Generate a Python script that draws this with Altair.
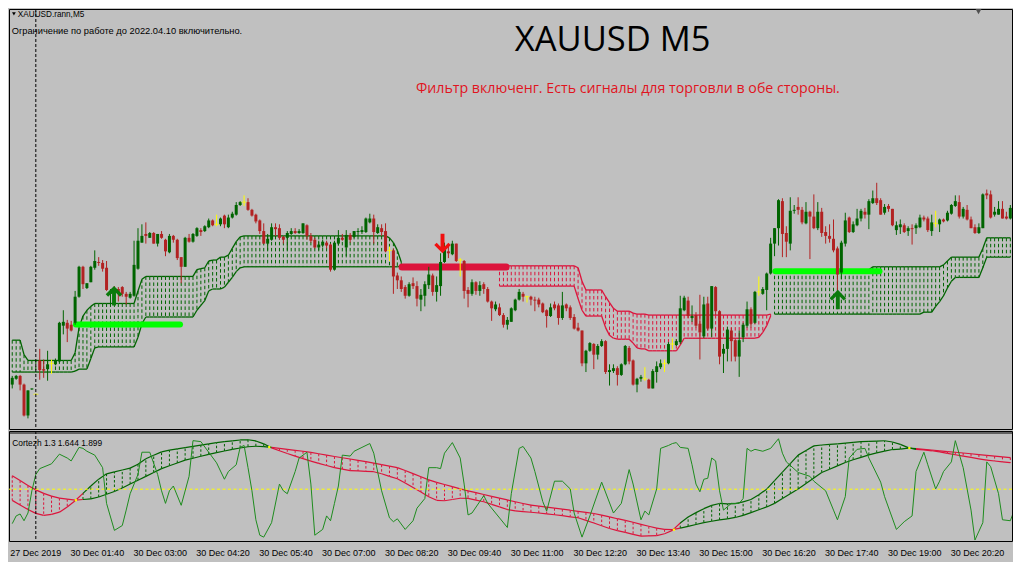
import altair as alt
import pandas as pd

# ---------------- price pane: candle levels (larger number = lower on the pane)
candle_open = [389, 383, 380, 389, 421, 394, 399, 364, 373, 373,
 367, 368, 365, 328, 325, 327, 325, 298, 267, 289,
 283, 268, 262, 263, 268, 295, 289, 290, 288, 295,
 299, 297, 269, 242, 233, 237, 232, 243, 233, 239,
 252, 235, 239, 257, 267, 237, 241, 235, 229, 230,
 226, 219, 223, 223, 214, 226, 216, 213, 203, 200,
 200, 208, 213, 219, 230, 243, 239, 226, 227, 236,
 237, 233, 230, 232, 232, 224, 235, 239, 247, 245,
 242, 244, 270, 243, 237, 247, 234, 236, 231, 231,
 231, 221, 217, 232, 227, 230, 250, 250, 276, 281,
 288, 297, 284, 287, 301, 297, 286, 276, 293, 287,
 262, 251, 254, 243, 260, 261, 291, 295, 283, 292,
 285, 290, 303, 311, 309, 317, 327, 324, 312, 301,
 295, 298, 298, 301, 301, 305, 312, 318, 306, 307,
 320, 306, 309, 319, 330, 333, 367, 354, 347, 358,
 349, 344, 376, 375, 372, 379, 368, 351, 364, 389,
 383, 383, 384, 393, 376, 371, 367, 367, 347, 348,
 345, 312, 302, 320, 317, 326, 339, 305, 331, 288,
 313, 357, 352, 333, 343, 360, 340, 328, 311, 325,
 293, 295, 291, 274, 243, 227, 199, 232, 243, 209,
 205, 208, 222, 210, 215, 227, 210, 231, 235, 238,
 248, 273, 243, 216, 231, 224, 217, 210, 213, 201,
 196, 198, 211, 204, 207, 229, 226, 224, 230, 227,
 227, 226, 216, 217, 230, 222, 223, 218, 219, 212,
 204, 200, 215, 208, 218, 226, 232, 227, 191, 192,
 213, 213, 207, 215, 217]
candle_high = [380, 379, 379, 388, 395, 393, 398.5, 352, 363, 354,
 363, 362, 324, 312, 322, 323, 292, 266, 266, 284,
 266, 250, 257, 260, 261, 290, 287, 288, 287, 293,
 293, 240, 227, 223, 221, 231, 231, 233, 230, 238,
 233, 234, 238, 257, 236, 233, 232, 226, 227, 224,
 217, 218, 213, 216, 213, 213, 210, 200, 199, 193,
 196, 207, 212, 218, 222, 233, 222, 222, 223, 235,
 230, 227, 227, 228, 222, 223, 232, 237, 240, 239,
 240, 243, 240, 229, 233, 229, 232, 230, 227, 225,
 216, 212, 213, 223, 223, 222, 246, 248, 273, 277,
 286, 283, 278, 282, 290, 282, 267, 274, 277, 253,
 242, 246, 240, 243, 258, 260, 288, 280, 282, 282,
 283, 288, 302, 303, 305, 315, 319, 309, 300, 290,
 293, 297, 297, 298, 299, 304, 311, 305, 303, 305,
 293, 305, 307, 316, 325, 333, 353, 345, 346, 347,
 342, 343, 368, 368, 370, 367, 348, 349, 363, 382,
 379, 371, 383, 373, 365, 363, 363, 345, 341, 342,
 297, 297, 298, 307, 314, 296, 298, 298, 287, 287,
 312, 347, 329, 330, 341, 333, 325, 303, 309, 292,
 277, 288, 273, 237, 227, 197, 196, 225, 195, 203,
 195, 205, 200, 209, 192, 200, 206, 225, 223, 218,
 246, 240, 211, 215, 220, 207, 207, 206, 197, 188,
 180, 196, 202, 202, 207, 220, 218, 222, 225, 223,
 222, 213, 214, 215, 213, 209, 217, 217, 209, 202,
 193, 193, 205, 203, 215, 223, 222, 191, 187, 188,
 205, 199, 199, 210, 203]
candle_low = [393, 384, 395, 422, 424, 394.5, 399.5, 384, 382, 385,
 378, 369, 366, 337, 345, 334, 327, 299, 290, 290,
 283, 270, 266, 272, 292, 306, 300, 303, 298, 306,
 300, 298, 270, 242, 243, 237, 243, 246, 238, 256,
 253, 242, 260, 284, 267, 242, 242, 236, 235, 231,
 227, 225, 225, 225, 227, 227, 217, 214, 204, 204,
 209, 215, 222, 233, 243, 250, 240, 235, 239, 243,
 250, 234, 233, 233, 233, 239, 242, 248, 250, 247,
 248, 272, 271, 245, 240, 256, 242, 237, 235, 233,
 232, 222, 243, 233, 235, 252, 261, 295, 290, 293,
 300, 298, 290, 308, 313, 308, 290, 297, 303, 297,
 263, 258, 255, 262, 277, 300, 309, 297, 296, 297,
 295, 304, 323, 313, 318, 330, 332, 324, 313, 302,
 303, 304, 307, 313, 309, 315, 330, 319, 312, 327,
 322, 313, 322, 332, 334, 370, 376, 355, 373, 363,
 350, 378, 390, 377, 390, 380, 369, 368, 390, 397,
 386, 385, 393, 393, 387, 373, 376, 368, 353, 349,
 347, 313, 320, 324, 330, 363, 341, 333, 340, 317,
 368, 377, 365, 365, 365, 381, 345, 330, 330, 326,
 297, 296, 312, 275, 256, 245, 257, 257, 250, 212,
 213, 223, 223, 259, 228, 229, 236, 243, 242, 252,
 300, 280, 246, 232, 232, 225, 220, 217, 228, 202,
 203, 213, 213, 210, 225, 234, 233, 232, 235, 244,
 233, 227, 220, 231, 235, 226, 231, 221, 220, 213,
 205, 217, 217, 219, 227, 233, 233, 227, 197, 217,
 215, 213, 217, 218, 218]
candle_close = [382, 380, 389, 421, 395, 393, 399, 374, 374.5, 368,
 367, 364, 325, 324, 331, 333, 298, 267, 285, 284,
 267, 261, 263, 269, 291, 292, 293, 295, 295, 298,
 295, 265, 240, 235, 235, 232, 243, 233, 237, 251,
 235, 239, 258, 267, 237, 241, 233, 227, 231, 225,
 219, 224, 223, 217, 223, 216, 212, 203, 200, 200,
 208, 214, 220, 230, 243, 238, 226, 228, 237, 239,
 232, 230, 232, 230, 222, 235, 240, 247, 244, 241,
 245, 270, 242, 237, 239, 234, 239, 230, 230, 229,
 217, 217, 231, 226, 231, 251, 250, 277, 281, 290,
 297, 285, 287, 300, 296, 285, 275, 293, 286, 262,
 248, 253, 243, 261, 260, 292, 295, 283, 292, 286,
 290, 303, 310, 306, 317, 327, 322, 310, 301, 293,
 298, 298, 301, 302, 306, 314, 318, 309, 310, 320,
 307, 310, 320, 331, 333, 367, 354, 346, 358, 349,
 344, 376, 374, 372, 379, 368, 349, 365, 389, 383,
 381, 383, 393, 375, 370, 367, 367, 347, 347, 344,
 310, 299, 318, 318, 328, 335, 306, 331, 287, 313,
 360, 352, 332, 344, 360, 343, 327, 311, 326, 293,
 293, 290, 274, 243, 227, 198, 233, 241, 209, 208,
 208, 221, 210, 215, 227, 210, 232, 235, 238, 250,
 275, 242, 219, 231, 223, 217, 209, 213, 199, 196,
 201, 213, 205, 207, 224, 224, 223, 231, 227, 228,
 224, 216, 218, 229, 221, 222, 218, 220, 211, 203,
 199, 215, 207, 218, 227, 232, 226, 192, 193, 216,
 210, 207, 217, 217, 206]

# ---------------- price-pane cloud (per bar)
cloud1_start = 0
cloud1_top = ([343] * 3 + [358] + [364] * 12 + [356, 330, 318, 312, 308] + [305] * 11 + [292, 280]
              + [277] * 13 + [270, 269, 268, 261, 260, 260, 257, 257, 255, 248, 241, 236] + [235] * 37
              + [237, 242, 250, 262])
cloud1_bottom = ([376] * 16 + [375, 373, 373, 373, 362, 351] + [350] * 10 + [340, 326] + [319] * 13
                 + [312, 307, 302, 292, 290, 290, 290, 288, 283, 278, 272, 268] + [267] * 40 + [266])
cloud2_start = 124
cloud2_top = ([266] * 20 + [268, 282] + [291] * 5 + [298, 304, 310] + [313] * 4 + [315] + [316] * 3
              + [317] * 31 + [316])
cloud2_bottom = ([287] * 20 + [300, 312] + [318] * 5 + [330, 338, 341] + [342] * 4 + [346, 351, 352, 352]
                 + [354] * 8 + [348] + [341] * 19 + [340, 335, 328, 318])
cloud3_start = 194
cloud3_top = [270] * 25 + [267] * 18 + [265, 261] + [257] * 8 + [248] + [237] * 7
cloud3_bottom = [316] * 38 + [314] * 3 + [308, 303, 297, 289, 282] + [278] * 7 + [268] + [257] * 7

# ---------------- signal bars and arrows
signal_from = [16.2, 99.2, 194.2]
signal_to = [42.7, 125.7, 220.7]
signal_level = [326.8, 267.3, 271.5]
signal_color = ["#00ff00", "#dc143c", "#00ff00"]
signal_width = [6, 7, 6]

arrow_bar = [25.9, 109.5, 210.1]
arrow_level = [297, 243, 301]
arrow_kind = ["up", "down", "up"]

# ---------------- indicator pane (Cortezh): two smoothed lines every 2 bars + oscillator
ind_bar = list(range(0, 256, 2))
ind_slow = [481.4, 486.4, 491.4, 496, 499.6, 502.5, 504.6, 505.7, 506.6, 506,
 505.3, 503.4, 500.5, 497.7, 494, 490, 486, 482, 478, 474,
 471, 468.2, 465.2, 463.2, 461.2, 459.3, 457.5, 455.7, 454, 452.6,
 451.3, 450.8, 451.2, 452, 453, 454, 455, 456, 457.2, 458.6,
 460, 461.4, 462.7, 464, 465.4, 466.7, 468.3, 469.9, 471.4, 473,
 476, 479.2, 482.4, 485.6, 488.2, 490.4, 492.6, 494.9, 497, 498.9,
 500.8, 502.7, 504.6, 506.4, 508.3, 510.1, 511.9, 512.9, 513.9, 515,
 516, 517.1, 518.3, 519.4, 520.5, 522.2, 524, 525.9, 527.7, 529.6,
 531.7, 533.7, 535.7, 536.9, 537.3, 535.7, 533.8, 531.9, 529.9, 528.5,
 527.2, 526, 524.6, 522.5, 519.6, 516.6, 513.7, 510, 505, 500,
 495, 489.3, 483.6, 478, 474.6, 471.1, 467.6, 464.8, 462.3, 459.8,
 457.6, 455.9, 454.2, 453.7, 452.8, 453.3, 454, 454.7, 455.5, 456.3,
 457, 457.8, 458.6, 459.4, 460.2, 461, 461.8, 462.5]
ind_fast = [506.9, 511.6, 516.3, 520.4, 522.5, 521.4, 519.1, 513.8, 507.3, 499.6,
 492, 484.9, 479.4, 477.4, 475.4, 473.5, 469.5, 463.8, 460.1, 456.6,
 454.9, 453.6, 452.3, 451, 449.7, 448.4, 447, 446, 445.3, 444.3,
 444.1, 445.3, 448.3, 452.5, 455.5, 458.3, 461, 463.7, 466.2, 468.5,
 470.8, 473, 474.5, 476, 476.4, 476.8, 477.2, 479.3, 482, 484.5,
 488.9, 493.6, 498.3, 503.1, 506.8, 507.3, 506, 504.7, 504.9, 506.6,
 508.3, 511, 513.7, 516.4, 517.8, 518.5, 519.2, 520, 520.8, 521.8,
 522.8, 523.9, 524.9, 527.6, 530.4, 533.2, 536, 538.2, 540.1, 542.1,
 544, 543.7, 543.4, 541.5, 538, 530.3, 524.1, 519.6, 515.5, 512.1,
 510.1, 510.5, 510.2, 508.5, 506, 501, 495.3, 486.5, 477.6, 468.8,
 460, 455.2, 450.4, 449.5, 448.9, 448.3, 447.5, 446.7, 446, 445.7,
 445.4, 445.1, 446.4, 448.9, 452.2, 454, 454.5, 455.5, 456.7, 458.2,
 459.6, 461, 462.4, 463.9, 465.2, 466.1, 467, 467.8]

osc_bar = [0, 1, 2, 3, 4, 5, 6, 7, 10, 12,
 14, 15, 17, 18, 19, 21, 23, 24, 26, 28,
 29, 30, 32, 33, 35, 37, 38, 39, 40, 41,
 43, 45, 46, 48, 50, 52, 54, 55, 57, 58,
 59, 60, 61, 62, 63, 64, 66, 68, 69, 70,
 72, 73, 75, 76, 77, 79, 80, 81, 82, 83,
 84, 86, 87, 89, 91, 92, 94, 96, 97, 98,
 100, 102, 103, 105, 106, 108, 109, 110, 112, 114,
 115, 116, 117, 120, 121, 123, 126, 127, 129, 130,
 132, 133, 135, 136, 138, 140, 142, 143, 145, 147,
 150, 153, 155, 157, 158, 160, 161, 162, 164, 165,
 167, 168, 169, 170, 172, 173, 174, 175, 176, 177,
 178, 179, 180, 181, 183, 185, 186, 187, 188, 189,
 191, 193, 195, 196, 197, 200, 203, 204, 207, 209,
 210, 212, 213, 215, 217, 218, 221, 222, 225, 227,
 229, 230, 232, 233, 235, 236, 237, 239, 240, 242,
 244, 245, 247, 248, 249, 251, 252, 254, 255]
osc_level = [531, 523, 521, 528, 520, 497, 480, 474, 469, 459,
 463, 466, 452, 453, 456, 460, 473, 510, 538, 533,
 517, 500, 480, 457, 457, 480, 497, 510, 497, 492,
 512, 482, 445, 446, 457, 468, 485, 477, 470, 452,
 450, 473, 497, 527, 543, 545, 530, 490, 497, 500,
 477, 463, 457, 490, 543, 537, 523, 528, 510, 492,
 460, 461, 456, 452, 448, 458, 497, 525, 529, 526,
 537, 528, 515, 505, 473, 473, 474, 458, 447, 463,
 490, 522, 520, 502, 510, 520, 535, 500, 453, 451,
 463, 477, 508, 518, 487, 487, 495, 520, 545, 523,
 488, 520, 510, 475, 490, 527, 518, 522, 495, 453,
 450, 448, 447, 452, 453, 470, 490, 498, 485, 484,
 463, 466, 497, 517, 510, 510, 505, 453, 456, 454,
 456, 453, 443, 458, 467, 478, 482, 487, 497, 517,
 527, 503, 463, 454, 453, 463, 488, 503, 537, 529,
 523, 477, 457, 470, 495, 487, 477, 467, 445, 473,
 517, 548, 530, 467, 472, 500, 527, 528, 517]

cross_bar = [16.2, 65.4, 168.4, 228.3]
cross_level = [506.7, 451.7, 537.3, 452.7]
zero_level = [495.3]
separator_bar = [6]

time_labels = ["27 Dec 2019", "30 Dec 01:40", "30 Dec 03:00", "30 Dec 04:20", "30 Dec 05:40",
               "30 Dec 07:00", "30 Dec 08:20", "30 Dec 09:40", "30 Dec 11:00", "30 Dec 12:20",
               "30 Dec 13:40", "30 Dec 15:00", "30 Dec 16:20", "30 Dec 17:40", "30 Dec 19:00",
               "30 Dec 20:20"]
time_label_bar = [-0.5, 14.85, 30.85, 46.85, 62.85, 78.85, 94.85, 110.85, 126.85, 142.85,
                  158.85, 174.85, 190.85, 206.85, 222.85, 238.85]

# ---------------- styling / layout
W, H_MAIN, H_IND, H_LAB = 1003, 420, 110, 20
SX = W / 1021.0
SY = H_MAIN / 435.0
BG = "#c0c0c0"
UP, DOWN, DOJI = "#006400", "#b22222", "#ffff00"
CG, CR = "#006400", "#dc143c"
SANS = "Liberation Sans"

xs = alt.Scale(domain=[-0.825, 254.425], nice=False, zero=False)
ys_main = alt.Scale(domain=[0, 435], reverse=True, nice=False, zero=False)
ys_ind = alt.Scale(domain=[435, 549], reverse=True, nice=False, zero=False)


def X(f):
    return alt.X(f, type="quantitative", scale=xs, axis=None)


def YM(f):
    return alt.Y(f, type="quantitative", scale=ys_main, axis=None)


def YI(f):
    return alt.Y(f, type="quantitative", scale=ys_ind, axis=None)


# ---- candles
cd = pd.DataFrame({"k": list(range(len(candle_open))), "o": candle_open, "h": candle_high,
                   "l": candle_low, "c": candle_close})
cd["col"] = [UP if c < o else (DOWN if c > o else DOJI) for o, c in zip(candle_open, candle_close)]
colr = alt.Color("col:N", scale=None)

wicks = alt.Chart(cd).mark_rule(strokeWidth=1, clip=True).encode(x=X("k"), y=YM("h"), y2="l:Q", color=colr)
bodies = alt.Chart(cd).transform_filter("datum.o != datum.c").mark_rule(
    strokeWidth=3, clip=True).encode(x=X("k"), y=YM("o"), y2="c:Q", color=colr)
dojis = alt.Chart(cd).transform_filter("datum.o == datum.c").mark_tick(
    orient="horizontal", size=5, thickness=1, clip=True).encode(x=X("k"), y=YM("o"), color=colr)

# ---- price-pane cloud
hatch_rows, edge_rows = [], []
for start, top, bot, col in [(cloud1_start, cloud1_top, cloud1_bottom, CG),
                             (cloud2_start, cloud2_top, cloud2_bottom, CR),
                             (cloud3_start, cloud3_top, cloud3_bottom, CG)]:
    for i in range(len(top)):
        hatch_rows.append({"k": start + i, "a": top[i], "b": bot[i], "col": col})
        if i + 1 < len(top):
            edge_rows.append({"k": start + i, "k2": start + i + 1, "a": top[i], "b": top[i + 1], "col": col})
            edge_rows.append({"k": start + i, "k2": start + i + 1, "a": bot[i], "b": bot[i + 1], "col": col})
hatch_df = pd.DataFrame(hatch_rows)
edge_df = pd.DataFrame(edge_rows)

cloud_hatch = alt.Chart(hatch_df).mark_rule(strokeWidth=1, strokeDash=[3.5, 2.5], clip=True).encode(
    x=X("k"), y=YM("a"), y2="b:Q", color=colr)
cloud_edges = alt.Chart(edge_df).mark_rule(strokeWidth=1.3, clip=True).encode(
    x=X("k"), x2="k2:Q", y=YM("a"), y2="b:Q", color=colr)

# ---- signals
sig_df = pd.DataFrame({"k": signal_from, "k2": signal_to, "v": signal_level,
                       "col": signal_color, "w": signal_width})
signals = alt.Chart(sig_df).mark_rule(strokeCap="round", clip=True).encode(
    x=X("k"), x2="k2:Q", y=YM("v"), color=colr, strokeWidth=alt.StrokeWidth("w:Q", scale=None))

UP_PATH = "M0,-1L0.85,-0.15L0.6,0.1L0.2,-0.32L0.2,1L-0.2,1L-0.2,-0.32L-0.6,0.1L-0.85,-0.15Z"
DOWN_PATH = "M0,1L0.85,0.15L0.6,-0.1L0.2,0.32L0.2,-1L-0.2,-1L-0.2,0.32L-0.6,-0.1L-0.85,0.15Z"
arr_df = pd.DataFrame({"k": arrow_bar, "v": arrow_level, "kind": arrow_kind})
arr_df["shp"] = [UP_PATH if t == "up" else DOWN_PATH for t in arrow_kind]
arr_df["col"] = ["#0b7a0b" if t == "up" else "#f01010" for t in arrow_kind]
arrows = alt.Chart(arr_df).mark_point(filled=True, opacity=1, size=380, strokeWidth=0, clip=True).encode(
    x=X("k"), y=YM("v"), shape=alt.Shape("shp:N", scale=None), color=colr)

sep_df = pd.DataFrame({"k": separator_bar})
sep_main = alt.Chart(sep_df).mark_rule(color="black", strokeDash=[3, 2], strokeWidth=1).encode(x=X("k"))
sep_ind = alt.Chart(sep_df).mark_rule(color="black", strokeDash=[3, 2], strokeWidth=1).encode(x=X("k"))


def label(text, x, y, size, font, color="black", align="left"):
    return alt.Chart(pd.DataFrame({"t": [text]})).mark_text(
        align=align, baseline="alphabetic", fontSize=size, font=font, color=color).encode(
        text="t:N", x=alt.value(x), y=alt.value(y))


marker = alt.Chart(pd.DataFrame({"t": [1]})).mark_point(
    shape="triangle-down", filled=True, size=14, color="black", opacity=1).encode(
    x=alt.value(5 * SX), y=alt.value(5 * SY))
shift_mark = alt.Chart(pd.DataFrame({"k": [245.9], "v": [2]})).mark_point(
    shape="triangle-down", filled=True, size=55, color="#505050", opacity=1, clip=True).encode(
    x=X("k"), y=YM("v"))

main = alt.layer(
    cloud_hatch, cloud_edges, signals, wicks, bodies, dojis, arrows, sep_main, shift_mark, marker,
    label("XAUUSD.rann,M5", 9.0 * SX, 8.3 * SY, 8.2, SANS),
    label("Ограничение по работе до 2022.04.10 включительно.", 2.7 * SX, 26 * SY, 9.3, SANS),
    label("XAUUSD M5", 614.5 * SX, 44 * SY, 34.5, "Open Sans", align="center"),
    label("Фильтр включенг. Есть сигналы для торговли в обе стороны.", 630 * SX, 87.5 * SY, 14.2,
          "Open Sans", color="#e0141e", align="center"),
).properties(width=W, height=H_MAIN)

# ---- indicator pane
ind_df = pd.DataFrame({"k": ind_bar, "a": ind_slow, "b": ind_fast})
ind_df["col"] = [CG if f < s else CR for s, f in zip(ind_slow, ind_fast)]
ind_edges = []
for i in range(len(ind_bar) - 1):
    for arr in (ind_slow, ind_fast):
        ind_edges.append({"k": ind_bar[i], "k2": ind_bar[i + 1], "a": arr[i], "b": arr[i + 1],
                          "col": ind_df["col"][i]})
ind_edge_df = pd.DataFrame(ind_edges)

ind_hatch = alt.Chart(ind_df).mark_rule(strokeWidth=1, strokeDash=[2.5, 2], clip=True).encode(
    x=X("k"), y=YI("a"), y2="b:Q", color=colr)
ind_lines = alt.Chart(ind_edge_df).mark_rule(strokeWidth=1.2, clip=True).encode(
    x=X("k"), x2="k2:Q", y=YI("a"), y2="b:Q", color=colr)
zero_line = alt.Chart(pd.DataFrame({"v": zero_level})).mark_rule(
    color="#ffff00", strokeDash=[3, 2.5], strokeWidth=1).encode(y=YI("v"))
osc = alt.Chart(pd.DataFrame({"k": osc_bar, "v": osc_level})).mark_line(
    color="#1e8c1e", strokeWidth=1, clip=True).encode(x=X("k"), y=YI("v"))
cross = alt.Chart(pd.DataFrame({"k": cross_bar, "v": cross_level})).mark_square(
    size=5, color="#ffff00", opacity=1, clip=True).encode(x=X("k"), y=YI("v"))
top_line = alt.Chart(pd.DataFrame({"t": [1]})).mark_rule(color="black", strokeWidth=1).encode(
    x=alt.value(0), x2=alt.value(W), y=alt.value(2))

ind = alt.layer(
    ind_hatch, ind_lines, zero_line, osc, cross, sep_ind, top_line,
    label("Cortezh 1.3 1.644 1.899", 3.3 * SX, 14.5, 8.4, SANS),
).properties(width=W, height=H_IND)

# ---- time labels
lab = alt.Chart(pd.DataFrame({"k": time_label_bar, "t": time_labels})).mark_text(
    align="left", baseline="alphabetic", fontSize=9, font=SANS, color="black", clip=True).encode(
    x=X("k"), y=alt.value(13.5), text="t:N").properties(
    width=W, height=H_LAB, view=alt.ViewBackground(stroke=None))

chart = alt.vconcat(main, ind, lab, spacing=0, padding=0, background=BG).resolve_scale(
    x="independent", y="independent").configure_view(stroke="#000000", strokeWidth=1)

chart.save("out.html", embed_options={"renderer": "svg", "actions": False})
